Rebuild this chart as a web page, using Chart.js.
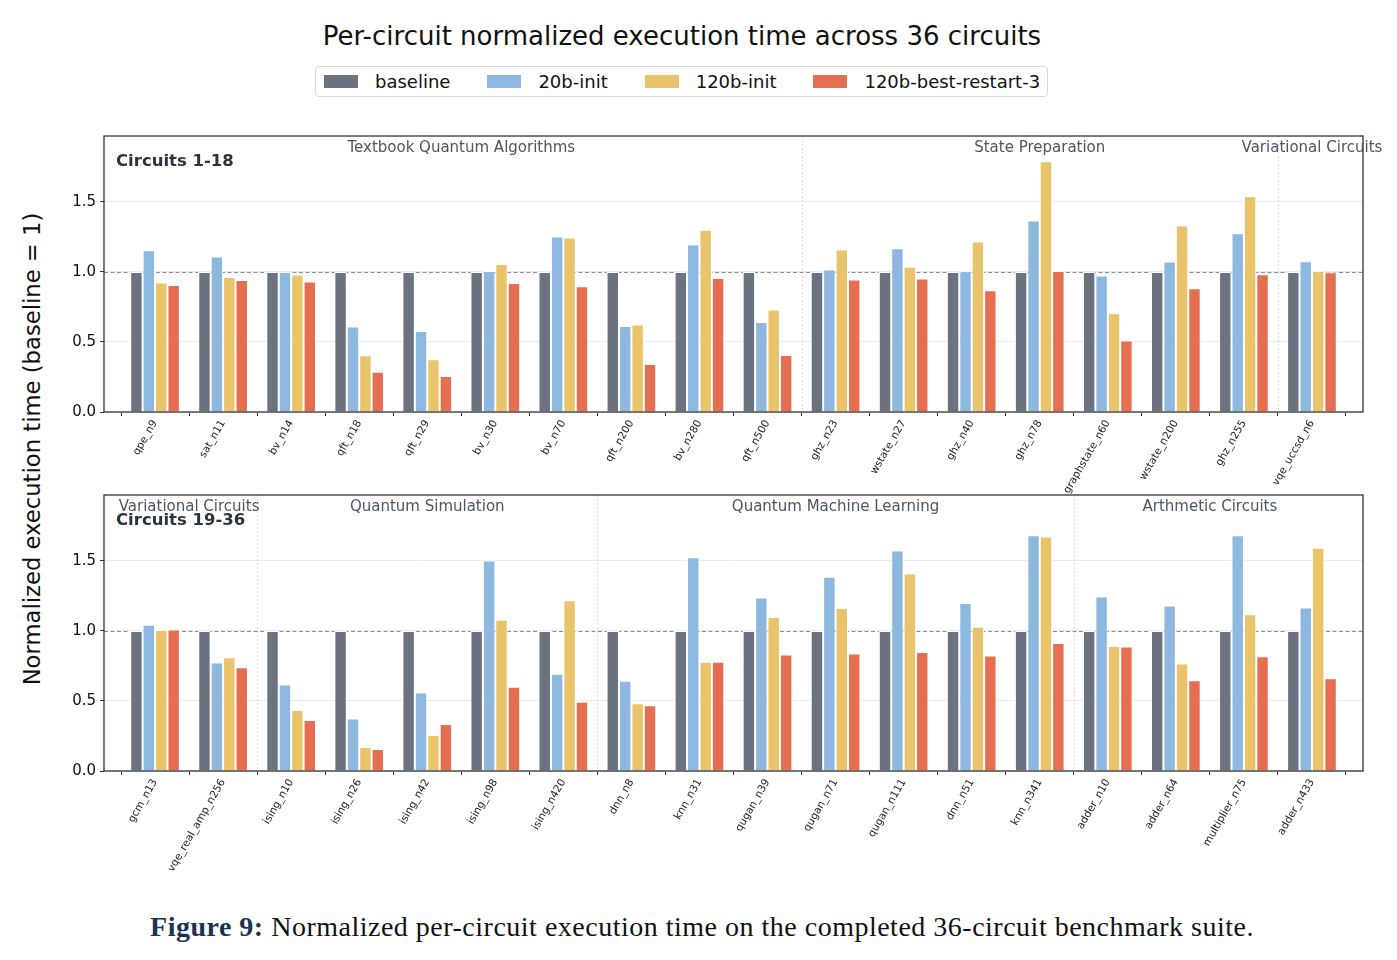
<!DOCTYPE html>
<html>
<head>
<meta charset="utf-8">
<script src="https://cdn.jsdelivr.net/npm/chart.js@4.4.1/dist/chart.umd.min.js"></script>
<style>
  body { margin: 0; width: 1397px; height: 960px; background: #fff; position: relative; overflow: hidden; font-family: 'DejaVu Sans', sans-serif; }
  #title { position: absolute; top: 21px; left: 0; width: 1364px; text-align: center; font-size: 26px; color: #111; white-space: nowrap; }
  #legend { position: absolute; left: 315px; top: 66px; width: 733px; height: 31px; border: 1px solid #d8d8d8; border-radius: 4px; display: flex; align-items: center; padding-left: 8px; box-sizing: border-box; white-space: nowrap; }
  .item { display: flex; align-items: center; margin-right: 37px; font-size: 18px; color: #111; white-space: nowrap; flex: none; }
  .sw { width: 34px; height: 13px; margin-right: 17px; flex: none; }
  #ylabel { position: absolute; left: 32px; top: 449px; transform: translate(-50%, -50%) rotate(-90deg); white-space: nowrap; font-size: 22.7px; color: #111; }
  #caption { position: absolute; top: 911px; left: 0; width: 1404px; text-align: center; font-family: 'Liberation Serif', serif; font-size: 28px; letter-spacing: 0.5px; color: #111; white-space: nowrap; }
  #caption b { color: #1c3350; }
  canvas { position: absolute; left: 0; }
</style>
</head>
<body>
<div id="title">Per-circuit normalized execution time across 36 circuits</div>
<div id="legend"></div>
<div id="ylabel">Normalized execution time (baseline = 1)</div>
<canvas id="top" width="1397" height="379" style="top:123px"></canvas>
<canvas id="bottom" width="1397" height="403" style="top:482px"></canvas>
<div id="caption"><b>Figure 9:</b> Normalized per-circuit execution time on the completed 36-circuit benchmark suite.</div>
<script>
const seriesNames = ['baseline', '20b-init', '120b-init', '120b-best-restart-3'];
const seriesColors = ['#6b7380', '#8db8e0', '#e9c46a', '#e76f51'];

const circuitsTop = ['qpe_n9', 'sat_n11', 'bv_n14', 'qft_n18', 'qft_n29', 'bv_n30', 'bv_n70', 'qft_n200', 'bv_n280',
  'qft_n500', 'ghz_n23', 'wstate_n27', 'ghz_n40', 'ghz_n78', 'graphstate_n60', 'wstate_n200', 'ghz_n255', 'vqe_uccsd_n6'];
const baselineTop = [1, 1, 1, 1, 1, 1, 1, 1, 1, 1, 1, 1, 1, 1, 1, 1, 1, 1];
const init20Top = [1.155, 1.11, 1.0, 0.61, 0.579, 1.007, 1.252, 0.614, 1.195, 0.643, 1.017, 1.169, 1.005, 1.367, 0.974, 1.074, 1.276, 1.076];
const init120Top = [0.924, 0.964, 0.981, 0.405, 0.376, 1.057, 1.245, 0.624, 1.3, 0.731, 1.16, 1.036, 1.217, 1.79, 0.705, 1.331, 1.54, 1.005];
const best3Top = [0.907, 0.943, 0.931, 0.288, 0.257, 0.921, 0.898, 0.343, 0.957, 0.407, 0.945, 0.952, 0.869, 1.007, 0.51, 0.883, 0.983, 0.998];

const circuitsBottom = ['gcm_n13', 'vqe_real_amp_n256', 'ising_n10', 'ising_n26', 'ising_n42', 'ising_n98', 'ising_n420', 'dnn_n8',
  'knn_n31', 'qugan_n39', 'qugan_n71', 'qugan_n111', 'dnn_n51', 'knn_n341', 'adder_n10', 'adder_n64', 'multiplier_n75', 'adder_n433'];
const baselineBottom = [1, 1, 1, 1, 1, 1, 1, 1, 1, 1, 1, 1, 1, 1, 1, 1, 1, 1];
const init20Bottom = [1.043, 0.774, 0.617, 0.374, 0.56, 1.502, 0.695, 0.645, 1.526, 1.238, 1.386, 1.574, 1.2, 1.683, 1.245, 1.181, 1.683, 1.167];
const init120Bottom = [1.007, 0.812, 0.436, 0.171, 0.257, 1.079, 1.219, 0.483, 0.779, 1.1, 1.164, 1.41, 1.029, 1.674, 0.893, 0.767, 1.119, 1.593];
const best3Bottom = [1.01, 0.74, 0.364, 0.157, 0.336, 0.602, 0.495, 0.469, 0.779, 0.831, 0.838, 0.85, 0.824, 0.914, 0.888, 0.648, 0.819, 0.662];

// category groups: [name, first index, last index]
const groupsTop = [['Textbook Quantum Algorithms', 0, 9], ['State Preparation', 10, 16], ['Variational Circuits', 17, 17]];
const groupsBottom = [['Variational Circuits', 0, 1], ['Quantum Simulation', 2, 6], ['Quantum Machine Learning', 7, 13], ['Arthmetic Circuits', 14, 17]];

const yTicks = [0, 0.5, 1.0, 1.5];
const yMax = 1.97;

Chart.defaults.font.family = "'DejaVu Sans', sans-serif";
Chart.defaults.color = '#111';

// legend
const legendEl = document.getElementById('legend');
seriesNames.forEach((n, i) => {
  legendEl.insertAdjacentHTML('beforeend',
    `<div class="item"><span class="sw" style="background:${seriesColors[i]}"></span>${n}</div>`);
});

const panelDecor = {
  id: 'panelDecor',
  beforeDatasetsDraw(chart, args, opts) {
    const { ctx, chartArea: a, scales: { x, y } } = chart;
    ctx.save();
    ctx.lineWidth = 1;
    ctx.strokeStyle = '#cfd4db';
    ctx.setLineDash([1.5, 2.5]);
    opts.groups.slice(0, -1).forEach(g => {
      const px = Math.round(x.getPixelForValue(g[2] + 0.5)) + 0.5;
      ctx.beginPath(); ctx.moveTo(px, a.top); ctx.lineTo(px, a.bottom); ctx.stroke();
    });
    const py = Math.round(y.getPixelForValue(1)) + 0.5;
    ctx.strokeStyle = '#8a8f96';
    ctx.lineWidth = 1.2;
    ctx.setLineDash([4, 2.5]);
    ctx.beginPath(); ctx.moveTo(a.left, py); ctx.lineTo(a.right, py); ctx.stroke();
    ctx.restore();
  },
  afterDraw(chart, args, opts) {
    const { ctx, chartArea: a, scales: { x } } = chart;
    ctx.save();
    ctx.strokeStyle = '#222';
    ctx.lineWidth = 1.2;
    ctx.strokeRect(a.left, a.top, a.right - a.left, a.bottom - a.top);
    ctx.font = "15px 'DejaVu Sans'";
    ctx.fillStyle = '#4a5566';
    ctx.textAlign = 'center';
    ctx.textBaseline = 'alphabetic';
    opts.groups.forEach(g => {
      ctx.fillText(g[0], x.getPixelForValue((g[1] + g[2]) / 2), a.top + 16);
    });
    ctx.font = "bold 16.5px 'DejaVu Sans'";
    ctx.fillStyle = '#2b3340';
    ctx.textAlign = 'left';
    ctx.fillText(opts.label, a.left + 12, a.top + 30);
    ctx.restore();
  }
};

function makePanel(id, labels, values, groups, label, xHeight) {
  new Chart(document.getElementById(id), {
    type: 'bar',
    data: {
      datasets: values.map((vals, i) => ({
        label: seriesNames[i],
        data: vals.map((v, k) => ({ x: k, y: v })),
        backgroundColor: seriesColors[i],
        borderColor: '#ffffff',
        borderWidth: 1,
        barPercentage: 1,
        categoryPercentage: 0.73
      }))
    },
    options: {
      responsive: false,
      animation: false,
      devicePixelRatio: 1,
      layout: { padding: { left: 0, right: 34, top: 7, bottom: 0 } },
      plugins: {
        legend: { display: false },
        tooltip: { enabled: false },
        panelDecor: { groups: groups, label: label }
      },
      scales: {
        x: {
          type: 'linear',
          min: -0.75,
          max: 17.75,
          offset: false,
          afterFit: s => { s.height = xHeight; },
          grid: { display: true, drawOnChartArea: false, drawTicks: true, tickLength: 4, tickColor: '#333' },
          border: { display: false },
          ticks: {
            stepSize: 1,
            includeBounds: false,
            autoSkip: false,
            minRotation: 60,
            maxRotation: 60,
            padding: 2,
            font: { size: 10.5 },
            color: '#222',
            callback: v => labels[v] ?? ''
          }
        },
        y: {
          min: 0,
          max: yMax,
          afterFit: s => { s.width = 104; },
          afterBuildTicks: s => { s.ticks = yTicks.map(v => ({ value: v })); },
          grid: { color: '#e9ebef', lineWidth: 1, tickLength: 4, tickColor: '#333' },
          border: { display: false },
          ticks: {
            padding: 4,
            font: { size: 15 },
            color: '#111',
            callback: v => v.toFixed(1)
          }
        }
      }
    },
    plugins: [panelDecor]
  });
}

makePanel('top', circuitsTop, [baselineTop, init20Top, init120Top, best3Top], groupsTop, 'Circuits 1-18', 90);
makePanel('bottom', circuitsBottom, [baselineBottom, init20Bottom, init120Bottom, best3Bottom], groupsBottom, 'Circuits 19-36', 114);
</script>
</body>
</html>
